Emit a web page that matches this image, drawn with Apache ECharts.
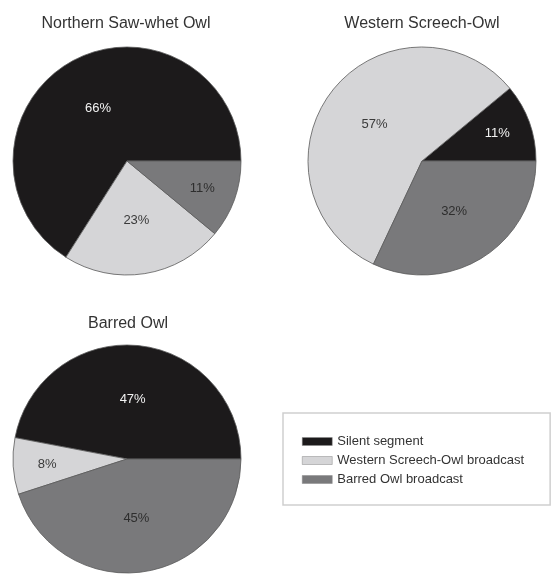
<!DOCTYPE html>
<html>
<head>
<meta charset="utf-8">
<script src="https://cdn.jsdelivr.net/npm/echarts@6/dist/echarts.min.js"></script>
<style>
  html, body { margin: 0; padding: 0; background: #ffffff; }
  #chart { width: 552px; height: 575px; }
</style>
</head>
<body>
<div id="chart"></div>
<script>
// Share of trial segments per species response
const segmentNames = ['Silent segment', 'Western Screech-Owl broadcast', 'Barred Owl broadcast'];
const speciesTitles = ['Northern Saw-whet Owl', 'Western Screech-Owl', 'Barred Owl'];
const sawWhetShares = [66, 23, 11];
const screechShares = [11, 57, 32];
const barredShares = [47, 8, 45];

const sliceColors = ['#1c1a1b', '#d5d5d7', '#79797b'];
const labelColors = ['#f2f2f2', '#3a3a3a', '#2e2e2e'];

const FONT = '"Liberation Sans", Arial, sans-serif';

const chart = echarts.init(document.getElementById('chart'), null, { renderer: 'canvas' });

function buildData(shares) {
  const total = shares.reduce((a, b) => a + b, 0);
  // running angle, used to push labels of narrow slices toward the rim
  let acc = 0;
  return shares.map((v, i) => {
    const mid = (acc + v / 2) / total * 2 * Math.PI;
    acc += v;
    const item = {
      name: segmentNames[i],
      value: v,
      itemStyle: { color: sliceColors[i] },
      label: { color: labelColors[i] }
    };
    if (v / total < 0.15) {
      const push = 20;
      item.label.offset = [Math.cos(mid) * push, -Math.sin(mid) * push];
    }
    return item;
  });
}

function pieSeries(shares, center) {
  return {
    type: 'pie',
    center: center,
    radius: 114,
    startAngle: 0,
    clockwise: false,
    silent: true,
    animation: false,
    itemStyle: { borderColor: '#5a5a5a', borderWidth: 0.8 },
    label: {
      show: true,
      position: 'inside',
      formatter: '{c}%',
      fontFamily: FONT,
      fontSize: 13
    },
    labelLine: { show: false },
    emphasis: { disabled: true },
    data: buildData(shares)
  };
}

const titleStyle = { fontFamily: FONT, fontSize: 16, fontWeight: 'normal', color: '#333333' };

chart.setOption({
  backgroundColor: '#ffffff',
  title: [
    { text: speciesTitles[0], left: 121, top: 11, textAlign: 'center', textStyle: titleStyle },
    { text: speciesTitles[1], left: 417, top: 11, textAlign: 'center', textStyle: titleStyle },
    { text: speciesTitles[2], left: 123, top: 311, textAlign: 'center', textStyle: titleStyle }
  ],
  legend: {
    orient: 'vertical',
    left: 283,
    top: 413,
    padding: [22, 26, 19, 19],
    borderColor: '#cfcfcf',
    borderWidth: 1.5,
    itemWidth: 30,
    itemHeight: 8,
    itemGap: 6,
    icon: 'rect',
    itemStyle: { borderColor: '#888888', borderWidth: 0.5 },
    textStyle: { fontFamily: FONT, fontSize: 13, color: '#333333' },
    data: segmentNames
  },
  series: [
    pieSeries(sawWhetShares, [127, 161]),
    pieSeries(screechShares, [422, 161]),
    pieSeries(barredShares, [127, 459])
  ]
});
</script>
</body>
</html>
